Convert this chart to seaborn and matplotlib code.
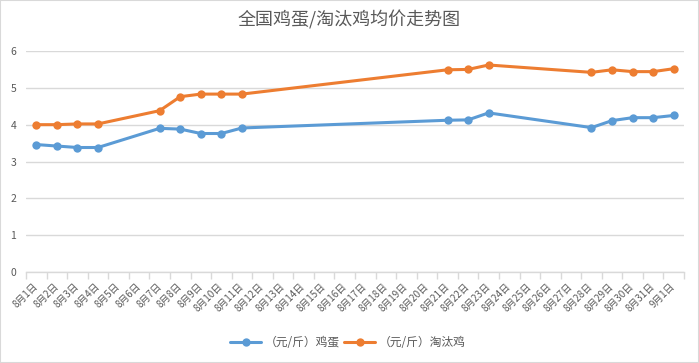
import pandas as pd
import matplotlib.pyplot as plt
import seaborn as sns
from matplotlib.patches import Rectangle

# categories on the x axis (every day, even without data)
dates = [f'8月{d}日' for d in range(1, 32)] + ['9月1日']

# days that have a price
obs_dates = ['8月1日', '8月2日', '8月3日', '8月4日', '8月7日', '8月8日', '8月9日',
             '8月10日', '8月11日', '8月21日', '8月22日', '8月23日', '8月28日',
             '8月29日', '8月30日', '8月31日', '9月1日']
egg = [3.46, 3.42, 3.38, 3.38, 3.90, 3.88, 3.76, 3.76, 3.91,
       4.12, 4.13, 4.32, 3.92, 4.11, 4.19, 4.19, 4.25]
hen = [4.00, 4.00, 4.02, 4.02, 4.38, 4.76, 4.83, 4.83, 4.83,
       5.49, 5.50, 5.62, 5.42, 5.49, 5.44, 5.44, 5.52]

egg_label = '（元/斤）鸡蛋'
hen_label = '（元/斤）淘汰鸡'

df = pd.concat([
    pd.DataFrame({'date': obs_dates, 'price': egg, 'series': egg_label}),
    pd.DataFrame({'date': obs_dates, 'price': hen, 'series': hen_label}),
])
df['pos'] = df['date'].map({d: i for i, d in enumerate(dates)})

sns.set_style("white")
plt.rcParams['font.family'] = ['Noto Sans CJK SC', 'DejaVu Sans']
text_color = '#595959'
grid_color = '#D9D9D9'

fig = plt.figure(figsize=(6.99, 3.63), dpi=100)
ax = fig.add_axes([26 / 699, 91 / 363, 658 / 699, 221 / 363])

sns.lineplot(ax=ax, data=df, x='pos', y='price', hue='series',
             palette={egg_label: '#5B9BD5', hen_label: '#ED7D31'},
             marker='o', markersize=6, markeredgewidth=0, linewidth=2.2,
             sort=False, legend=False)

ax.set_xlim(-0.5, len(dates) - 0.5)
ax.set_ylim(0, 6)
ax.set_yticks(range(0, 7))
ax.yaxis.grid(True, color=grid_color, linewidth=1)
ax.set_axisbelow(True)
for line in ax.lines:
    line.set_clip_on(False)

# labels at category centres, tick marks at category boundaries
ax.set_xticks(range(len(dates)))
ax.set_xticklabels(dates, rotation=45, ha='right', va='center',
                   rotation_mode='anchor', fontsize=7, color=text_color)
ax.tick_params(axis='x', which='major', length=0, pad=9)
ax.set_xticks([i - 0.5 for i in range(len(dates) + 1)], minor=True)
ax.tick_params(axis='x', which='minor', length=5, color=grid_color, width=1,
               direction='out', bottom=True)
ax.tick_params(axis='y', length=0, pad=7, labelsize=7.5, labelcolor=text_color)

for side in ['left', 'right', 'top']:
    ax.spines[side].set_visible(False)
ax.spines['bottom'].set_color(grid_color)
ax.spines['bottom'].set_linewidth(1)
ax.set_xlabel('')
ax.set_ylabel('')

fig.suptitle('全国鸡蛋/淘汰鸡均价走势图', y=1 - 20 / 363, va='center',
             fontsize=13, color=text_color)

handles = [plt.Line2D([], [], color='#5B9BD5', marker='o', markersize=6,
                      markeredgewidth=0, linewidth=2.2),
           plt.Line2D([], [], color='#ED7D31', marker='o', markersize=6,
                      markeredgewidth=0, linewidth=2.2)]
fig.legend(handles, [egg_label, hen_label], loc='center',
           bbox_to_anchor=(348 / 699, 1 - 343 / 363), ncol=2, frameon=False,
           fontsize=8.5, labelcolor=text_color, handlelength=2.6,
           handletextpad=0.3, columnspacing=0.4)

fig.patches.append(Rectangle((0, 0), 1, 1, transform=fig.transFigure,
                             fill=False, edgecolor=grid_color, linewidth=1.5))

fig.savefig('out.png', dpi=100)
